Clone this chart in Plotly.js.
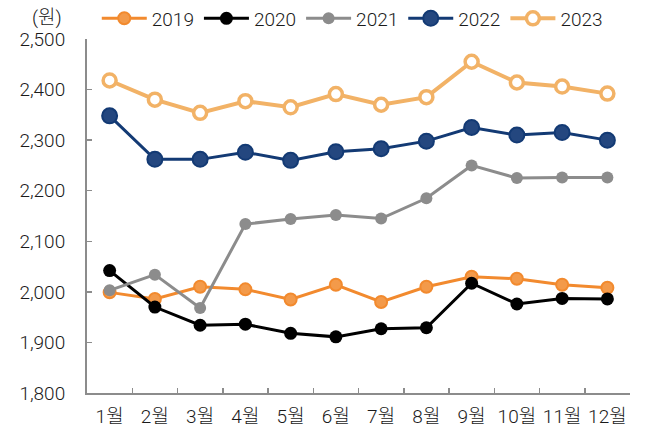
<!DOCTYPE html>
<html>
<head>
<meta charset="utf-8">
<script src="https://cdn.plot.ly/plotly-3.0.1.min.js"></script>
<style>html,body{margin:0;padding:0;background:#fff;}#chart{width:645px;height:430px;}</style>
</head>
<body>
<div id="chart"></div>
<script>
const months = ["1월","2월","3월","4월","5월","6월","7월","8월","9월","10월","11월","12월"];
const v2019 = [1999, 1986, 2010, 2005, 1985, 2014, 1980, 2010, 2030, 2026, 2014, 2008];
const v2020 = [2042, 1970, 1934, 1936, 1918, 1911, 1927, 1929, 2017, 1976, 1987, 1986];
const v2021 = [2003, 2034, 1968, 2134, 2144, 2152, 2145, 2185, 2250, 2225, 2226, 2226];
const v2022 = [2348, 2262, 2262, 2276, 2260, 2277, 2283, 2298, 2325, 2310, 2315, 2300];
const v2023 = [2418, 2380, 2354, 2377, 2365, 2391, 2370, 2385, 2455, 2414, 2406, 2392];
const seriesNames = ["2019","2020","2021","2022","2023"];

const styles = [
  {line:{color:"#F28A2E",width:3}, marker:{size:12,color:"#F39A4A",line:{color:"#F28A2E",width:2}}},
  {line:{color:"#000000",width:3}, marker:{size:13,color:"#000000",line:{color:"#000000",width:0}}},
  {line:{color:"#8C8C8C",width:3}, marker:{size:12,color:"#8C8C8C",line:{color:"#8C8C8C",width:0}}},
  {line:{color:"#133A74",width:3}, marker:{size:15,color:"#24477F",line:{color:"#133A74",width:2}}},
  {line:{color:"#F2B266",width:4}, marker:{size:13,color:"#FFFFFF",line:{color:"#F2B266",width:3.5}}}
];
const values = [v2019, v2020, v2021, v2022, v2023];
const traces = values.map((v,i)=>({
  type:"scatter", mode:"lines+markers", x:months, y:v, name:seriesNames[i],
  line:styles[i].line, marker:Object.assign({symbol:"circle"}, styles[i].marker)
}));

const font = {family:"Roboto, 'Noto Sans CJK KR', sans-serif", size:19, color:"#1a1a1a", weight:300};
const layout = {
  width:645, height:430,
  margin:{l:87, r:15, t:39, b:37, pad:0, autoexpand:false},
  paper_bgcolor:"#fff", plot_bgcolor:"#fff",
  font:font,
  showlegend:true,
  legend:{orientation:"h", x:0.018, xanchor:"left", y:1.058, yanchor:"middle",
          font:font, bgcolor:"rgba(0,0,0,0)", itemwidth:45, tracegroupgap:0},
  xaxis:{type:"category", range:[-0.5, 11.5], tickson:"boundaries", ticks:"inside", ticklen:5, tickwidth:1.5,
         tickcolor:"#8c8c8c", showline:true, linecolor:"#8c8c8c", linewidth:2,
         showgrid:false, zeroline:false, tickfont:font, tickangle:0, automargin:false,
         ticklabelstandoff:5},
  yaxis:{range:[1800,2500], dtick:100, tick0:1800, tickformat:",", ticks:"inside", ticklen:5,
         tickwidth:1.5, tickcolor:"#8c8c8c", showline:true, linecolor:"#8c8c8c", linewidth:2,
         showgrid:false, zeroline:false, tickfont:font, ticklabelstandoff:16, automargin:false},
  annotations:[{text:"(원)", xref:"paper", yref:"paper", x:-0.074, y:1.062,
                xanchor:"center", yanchor:"middle", showarrow:false, font:font}]
};
Plotly.newPlot("chart", traces, layout, {displayModeBar:false, staticPlot:true});
</script>
</body>
</html>
